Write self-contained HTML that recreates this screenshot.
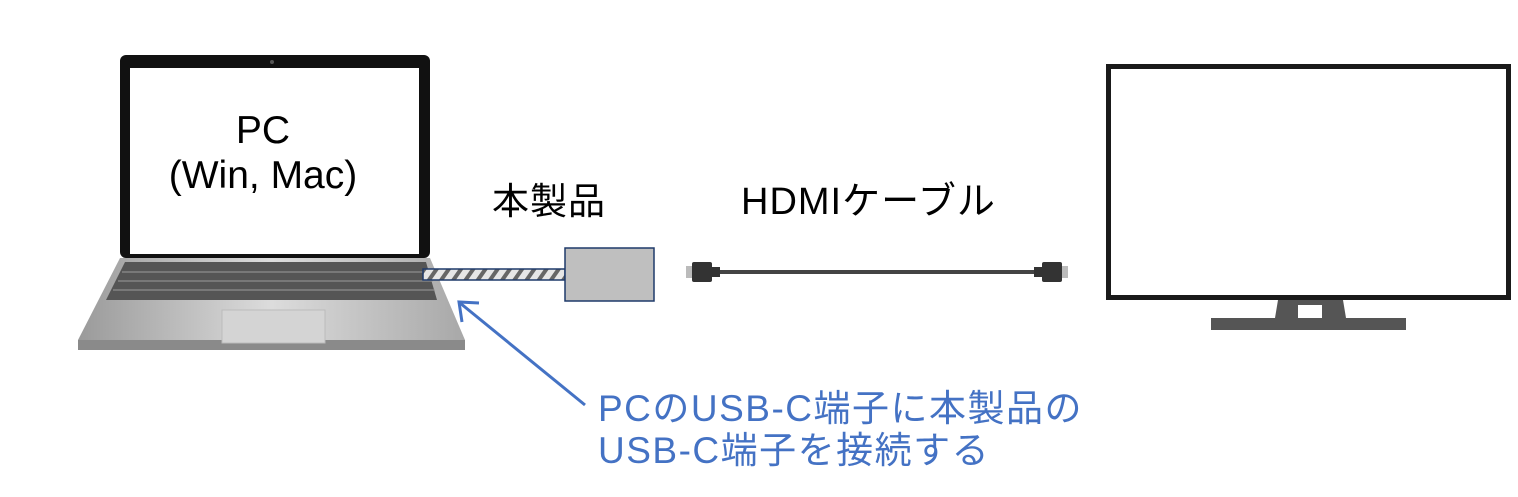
<!DOCTYPE html>
<html><head><meta charset="utf-8"><style>
body{margin:0;width:1518px;height:497px;background:#fff;overflow:hidden;position:relative;font-family:"Liberation Sans","Noto Sans CJK JP",sans-serif}
.t{position:absolute;font-size:37px;line-height:44px;white-space:nowrap}
</style></head><body>
<svg width="1518" height="497" style="position:absolute;left:0;top:0">
<defs>
<pattern id="h" width="10" height="10" patternUnits="userSpaceOnUse" patternTransform="rotate(35)">
<rect width="10" height="10" fill="#e6e6e6"/><rect width="4" height="10" fill="#666"/></pattern>
<linearGradient id="b" x1="0" x2="1"><stop offset="0" stop-color="#9a9a9a"/><stop offset=".5" stop-color="#dcdcdc"/><stop offset="1" stop-color="#a8a8a8"/></linearGradient>
</defs>
<path d="M120 258 L430 258 L465 340 L78 340 Z" fill="url(#b)"/>
<rect x="78" y="340" width="387" height="10" fill="#8a8a8a"/>
<path d="M125 262 L426 262 L437 300 L106 300 Z" fill="#555"/>
<g stroke="#9a9a9a" stroke-width="1">
<line x1="122" y1="272" x2="430" y2="272"/><line x1="118" y1="281" x2="433" y2="281"/><line x1="113" y1="290" x2="435" y2="290"/>
</g>
<rect x="222" y="310" width="103" height="33" fill="#d4d4d4" stroke="#bbb"/>
<rect x="120" y="55" width="310" height="203" rx="6" fill="#111"/>
<rect x="130" y="68" width="289" height="186" fill="#fff"/>
<circle cx="272" cy="62" r="2" fill="#555"/>
<rect x="423" y="269" width="142" height="11" fill="url(#h)" stroke="#1f3a6a" stroke-width="1.5"/>
<rect x="565" y="248" width="89" height="53" fill="#bfbfbf" stroke="#1f3a6a" stroke-width="1.5"/>
<line x1="718" y1="272" x2="1035" y2="272" stroke="#444" stroke-width="4"/>
<rect x="686" y="266" width="6" height="12" fill="#bbb"/><rect x="692" y="262" width="20" height="20" rx="2" fill="#333"/><rect x="710" y="267" width="10" height="10" fill="#333"/>
<rect x="1062" y="266" width="6" height="12" fill="#bbb"/><rect x="1042" y="262" width="20" height="20" rx="2" fill="#333"/><rect x="1034" y="267" width="10" height="10" fill="#333"/>
<rect x="1106" y="64" width="405" height="236" fill="#1a1a1a"/>
<rect x="1111" y="69" width="395" height="226" fill="#fff"/>
<path d="M1278 300 L1343 300 L1346 318 L1275 318 Z" fill="#555"/>
<rect x="1298" y="305" width="24" height="13" fill="#fff"/>
<rect x="1211" y="318" width="195" height="12" fill="#555"/>
<line x1="585" y1="405" x2="460" y2="303" stroke="#4472c4" stroke-width="3"/>
<polyline points="462,322 459,302 479,303" fill="none" stroke="#4472c4" stroke-width="3"/>
</svg>
<div class="t" style="left:113px;width:300px;text-align:center;top:109px;font-size:39px">PC</div>
<div class="t" style="left:113px;width:300px;text-align:center;top:154px;font-size:39px">(Win, Mac)</div>
<div class="t" style="left:492px;top:180px;letter-spacing:1px">本製品</div>
<div class="t" style="left:741px;top:180px;font-size:38px;letter-spacing:1px">HDMIケーブル</div>
<div class="t" style="left:598px;top:387px;color:#4472c4;letter-spacing:1.5px">PCのUSB-C端子に本製品の</div>
<div class="t" style="left:598px;top:429px;color:#4472c4;letter-spacing:1.5px">USB-C端子を接続する</div>
</body></html>
